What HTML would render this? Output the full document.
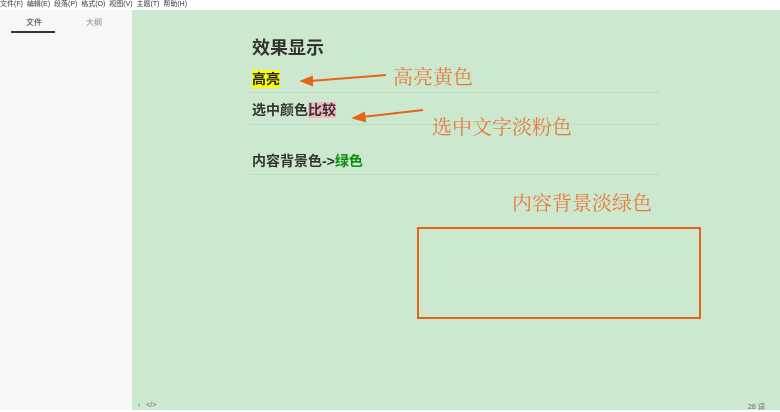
<!DOCTYPE html>
<html><head><meta charset="utf-8"><style>
body{margin:0;width:780px;height:410px;overflow:hidden;position:relative;background:#fff;font-family:"Liberation Sans","Noto Sans CJK SC",sans-serif}
.a{position:absolute;white-space:nowrap}
.menu{left:0;top:0;font-size:7px;color:#333;line-height:10px}
.side{left:0;top:10px;width:132px;height:400px;background:#f7f7f7}
.main{left:132px;top:10px;width:648px;height:400px;background:#cce8cf}
.b{font-weight:bold;color:#333}
.ann{color:#e8793a;font-family:"Noto Serif CJK SC",serif;font-size:20px}
.hr{height:1px;background:#bfdcc3;left:250px;width:410px}
</style></head><body>
<div class="a menu">文件(F)&nbsp; 编辑(E)&nbsp; 段落(P)&nbsp; 格式(O)&nbsp; 视图(V)&nbsp; 主题(T)&nbsp; 帮助(H)</div>
<div class="a side"></div>
<div class="a" style="left:26px;top:17px;font-size:8px;color:#333">文件</div>
<div class="a" style="left:86px;top:17px;font-size:8px;color:#888">大纲</div>
<div class="a" style="left:11px;top:31px;width:44px;height:2px;background:#333"></div>
<div class="a main"></div>
<div class="a b" style="left:252px;top:34px;font-size:18px">效果显示</div>
<div class="a b" style="left:252px;top:70px;font-size:14px;background:#ffff00;color:#222;line-height:18px">高亮</div>
<div class="a hr" style="top:92px"></div>
<div class="a b" style="left:252px;top:101px;font-size:14px;line-height:18px">选中颜色<span style="background:#f4b6c2">比较</span></div>
<div class="a hr" style="top:124px"></div>
<div class="a b" style="left:252px;top:152px;font-size:14px;line-height:18px">内容背景色-&gt;<span style="color:#0a8a0a">绿色</span></div>
<div class="a hr" style="top:174px"></div>
<div class="a ann" style="left:393px;top:61px">高亮黄色</div>
<div class="a ann" style="left:432px;top:111px">选中文字淡粉色</div>
<div class="a ann" style="left:512px;top:187px">内容背景淡绿色</div>
<div class="a" style="left:417px;top:227px;width:280px;height:88px;border:2px solid #e8631a"></div>
<svg class="a" style="left:0;top:0" width="780" height="410">
<g stroke="#e8631a" stroke-width="2" fill="#e8631a">
<line x1="386" y1="75" x2="310" y2="81"/><polygon points="302,81 312,77 312,85"/>
<line x1="423" y1="110" x2="362" y2="117"/><polygon points="354,118 364,113 365,121"/>
</g></svg>
<div class="a" style="left:138px;top:402px;font-size:7px;color:#666">‹&nbsp;&nbsp;&nbsp;&lt;/&gt;</div>
<div class="a" style="left:748px;top:402px;font-size:7px;color:#666">28 词</div>
</body></html>
